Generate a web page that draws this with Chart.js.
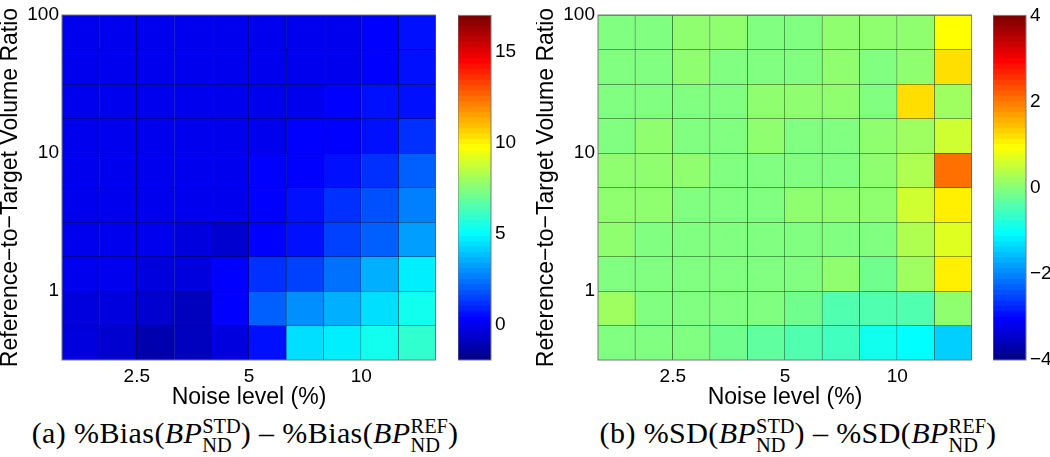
<!DOCTYPE html>
<html lang="en">
<head>
<meta charset="UTF-8">
<title>Bias and SD difference maps</title>
<script src="https://cdn.jsdelivr.net/npm/chart.js"></script>
<style>
  body { margin: 0; background: #fff; }
  #wrap { position: relative; width: 1050px; height: 457px; overflow: hidden; }
  canvas { position: absolute; top: 0; }
  .caption {
    position: absolute; top: 417px; line-height: 30px;
    font-family: "Liberation Serif", "DejaVu Serif", serif; font-size: 30px; letter-spacing: 0.4px;
    white-space: nowrap; transform: translateX(-50%); color: #000;
  }
  .ss { display: inline-block; vertical-align: -0.45em; font-size: 0.68em; line-height: 0.95; letter-spacing: 0; }
  .ss span { display: block; }
</style>
</head>
<body>
<div id="wrap">
  <canvas id="biasMap" width="436" height="415" style="left:0px"></canvas>
  <canvas id="biasBar" width="60" height="415" style="left:458px"></canvas>
  <canvas id="sdMap" width="436" height="415" style="left:536px"></canvas>
  <canvas id="sdBar" width="57" height="415" style="left:993px"></canvas>
  <div class="caption" style="left:245px">(a) %Bias(<i>BP</i><span class="ss"><span>STD</span><span>ND</span></span>) – %Bias(<i>BP</i><span class="ss"><span>REF</span><span>ND</span></span>)</div>
  <div class="caption" style="left:798px">(b) %SD(<i>BP</i><span class="ss"><span>STD</span><span>ND</span></span>) – %SD(<i>BP</i><span class="ss"><span>REF</span><span>ND</span></span>)</div>
</div>
<script>
// cell edges (log axes), 10 noise levels x 10 volume ratios
const noiseEdges = [1.575, 1.984, 2.5, 3.150, 3.969, 5, 6.300, 7.937, 10, 12.60, 15.87];
const noiseTicks = [2.5, 5, 10];
const ratioEdges = [0.3162, 0.5623, 1, 1.778, 3.162, 5.623, 10, 17.78, 31.62, 56.23, 100];
const ratioTicks = [1, 10, 100];

// rows go from the lowest ratio (bottom) to the highest (top), columns by noise level
const biasDiff = [
  [-0.32, -0.62, -1.21, -0.91, -0.32, 0.70, 4.41, 4.71, 5.40, 5.75],
  [-0.20, -0.32, -0.50, -0.91, 0.27, 2.05, 2.80, 3.53, 4.41, 5.40],
  [-0.10, -0.10, -0.32, -0.40, 0.27, 1.30, 1.45, 2.34, 3.53, 4.71],
  [-0.03, -0.03, -0.03, -0.20, -0.50, 0.27, 0.60, 1.45, 2.05, 3.10],
  [-0.03, -0.03, -0.03, -0.03, 0.05, 0.27, 0.60, 1.16, 1.75, 2.50],
  [-0.03, -0.03, -0.03, -0.03, -0.03, 0.20, 0.27, 0.60, 1.16, 2.05],
  [-0.03, -0.03, -0.03, -0.03, -0.03, 0.10, 0.20, 0.27, 0.60, 1.16],
  [-0.03, -0.03, -0.03, -0.03, -0.03, -0.03, 0.10, 0.20, 0.57, 0.60],
  [-0.03, -0.03, -0.03, -0.03, -0.03, -0.03, -0.03, -0.03, 0.27, 0.57],
  [-0.03, -0.03, -0.03, -0.03, -0.03, -0.10, -0.10, -0.03, 0.20, 0.57]
];
const sdDiff = [
  [-0.06, -0.06, -0.06, -0.19, -0.31, -0.44, -0.56, -0.94, -1.06, -1.38],
  [0.19, -0.06, -0.06, -0.06, -0.06, -0.19, -0.40, -0.40, -0.50, 0.06],
  [-0.06, -0.06, -0.06, -0.06, -0.06, -0.06, 0.06, -0.19, 0.19, 1.10],
  [0.06, -0.06, -0.06, -0.06, -0.06, -0.06, -0.06, -0.06, 0.31, 0.69],
  [0.06, 0.06, -0.06, -0.06, -0.06, 0.06, 0.06, 0.06, 0.56, 1.06],
  [0.06, 0.06, 0.06, -0.06, -0.06, -0.06, -0.06, 0.06, 0.31, 2.06],
  [-0.06, 0.06, -0.06, -0.06, 0.06, -0.06, -0.06, 0.06, 0.19, 0.56],
  [-0.06, -0.06, -0.06, -0.06, 0.06, 0.06, 0.06, -0.06, 1.19, 0.19],
  [-0.06, -0.06, 0.06, -0.06, -0.06, -0.06, 0.06, -0.06, 0.06, 1.19],
  [-0.06, -0.06, 0.06, 0.06, -0.06, -0.06, 0.06, 0.06, 0.06, 0.94]
];

const biasRange = [-1.95, 17];
const biasBarTicks = [0, 5, 10, 15];
const sdRange = [-4, 4];
const sdBarTicks = [-4, -2, 0, 2, 4];

// MATLAB-style jet(64)
function jet64() {
  const n = 16, u = [];
  for (let i = 1; i <= n; i++) u.push(i / n);
  for (let i = 1; i < n; i++) u.push(1);
  for (let i = n; i >= 1; i--) u.push(i / n);
  const ch = j => (j >= 1 && j <= u.length) ? u[j - 1] : 0;
  const out = [];
  for (let i = 1; i <= 64; i++) out.push([ch(i - 24), ch(i - 8), ch(i + 8)]);
  return out;
}
const cmap = jet64();
const rgb = (c, f = 1) => 'rgb(' + c.map(x => Math.round(x * 255 * f)).join(',') + ')';
function binFor(v, range) {
  const k = Math.floor((v - range[0]) / (range[1] - range[0]) * 64);
  return cmap[Math.max(0, Math.min(63, k))];
}

const FONT = '"Liberation Sans", Arial, sans-serif';
Chart.defaults.font.family = FONT;
Chart.defaults.color = '#000';

const frame = {
  id: 'frame',
  afterDatasetsDraw(chart) {
    const { ctx, chartArea: a } = chart;
    ctx.save();
    ctx.strokeStyle = '#7a7a7a';
    ctx.lineWidth = 1;
    ctx.strokeRect(a.left, a.top, a.right - a.left, a.bottom - a.top);
    ctx.restore();
  }
};

function heatmap(id, values, range) {
  const cells = [], fills = [], edges = [];
  values.forEach((row, r) => row.forEach((v, c) => {
    cells.push({ x: Math.sqrt(noiseEdges[c] * noiseEdges[c + 1]), y: [ratioEdges[r], ratioEdges[r + 1]] });
    const col = binFor(v, range);
    fills.push(rgb(col));
    edges.push(rgb(col, 0.25));
  }));
  return new Chart(document.getElementById(id), {
    type: 'bar',
    data: {
      datasets: [{
        data: cells,
        backgroundColor: fills,
        borderColor: edges,
        borderWidth: { top: 1, right: 1, bottom: 0, left: 0 },
        borderSkipped: false,
        inflateAmount: 0.5,
        barPercentage: 1,
        categoryPercentage: 1
      }]
    },
    options: {
      responsive: false,
      animation: false,
      layout: { padding: { top: 15, left: 0, right: 0, bottom: 0 } },
      plugins: { legend: { display: false }, tooltip: { enabled: false } },
      scales: {
        x: {
          type: 'logarithmic', min: noiseEdges[0], max: noiseEdges[noiseEdges.length - 1],
          offset: false, bounds: 'data',
          afterBuildTicks: s => { s.ticks = noiseTicks.map(v => ({ value: v })); },
          afterFit: s => { s.height = 55; },
          grid: { display: false, drawTicks: false },
          border: { display: false },
          ticks: { font: { size: 19 }, padding: 5, maxRotation: 0, autoSkip: false, callback: v => String(v) },
          title: { display: true, text: 'Noise level (%)', font: { size: 23 }, padding: { top: 0, bottom: 4 } }
        },
        y: {
          type: 'logarithmic', min: ratioEdges[0], max: ratioEdges[ratioEdges.length - 1],
          bounds: 'data',
          afterBuildTicks: s => { s.ticks = ratioTicks.map(v => ({ value: v })); },
          afterFit: s => { s.width = 62; },
          grid: { display: false, drawTicks: false },
          border: { display: false },
          ticks: { font: { size: 19 }, padding: 3, autoSkip: false, callback: v => String(v) },
          title: { display: true, text: 'Reference−to−Target Volume Ratio', font: { size: 23 }, padding: { top: -3, bottom: 0 } }
        }
      }
    },
    plugins: [frame]
  });
}

function colorbar(id, range, ticks, axisWidth) {
  const step = (range[1] - range[0]) / cmap.length;
  const datasets = cmap.map((c, k) => ({
    data: [[range[0] + (k - 0.4) * step, range[0] + (k + 1) * step]],
    backgroundColor: rgb(c),
    borderWidth: 0,
    grouped: false,
    barPercentage: 1,
    categoryPercentage: 1
  }));
  return new Chart(document.getElementById(id), {
    type: 'bar',
    data: { labels: [''], datasets },
    options: {
      responsive: false,
      animation: false,
      layout: { padding: { top: 15, bottom: 55, left: 0, right: 0 } },
      plugins: { legend: { display: false }, tooltip: { enabled: false } },
      scales: {
        x: { display: false },
        y: {
          position: 'right', min: range[0], max: range[1], bounds: 'data',
          afterBuildTicks: s => { s.ticks = ticks.map(v => ({ value: v })); },
          afterFit: s => { s.width = axisWidth; },
          grid: { display: false, drawTicks: false },
          border: { display: false },
          ticks: { font: { size: 19 }, padding: 4, autoSkip: false, callback: v => String(v).replace('-', '\u2212') }
        }
      }
    },
    plugins: [frame]
  });
}

heatmap('biasMap', biasDiff, biasRange);
colorbar('biasBar', biasRange, biasBarTicks, 27);
heatmap('sdMap', sdDiff, sdRange);
colorbar('sdBar', sdRange, sdBarTicks, 24);
</script>
</body>
</html>
